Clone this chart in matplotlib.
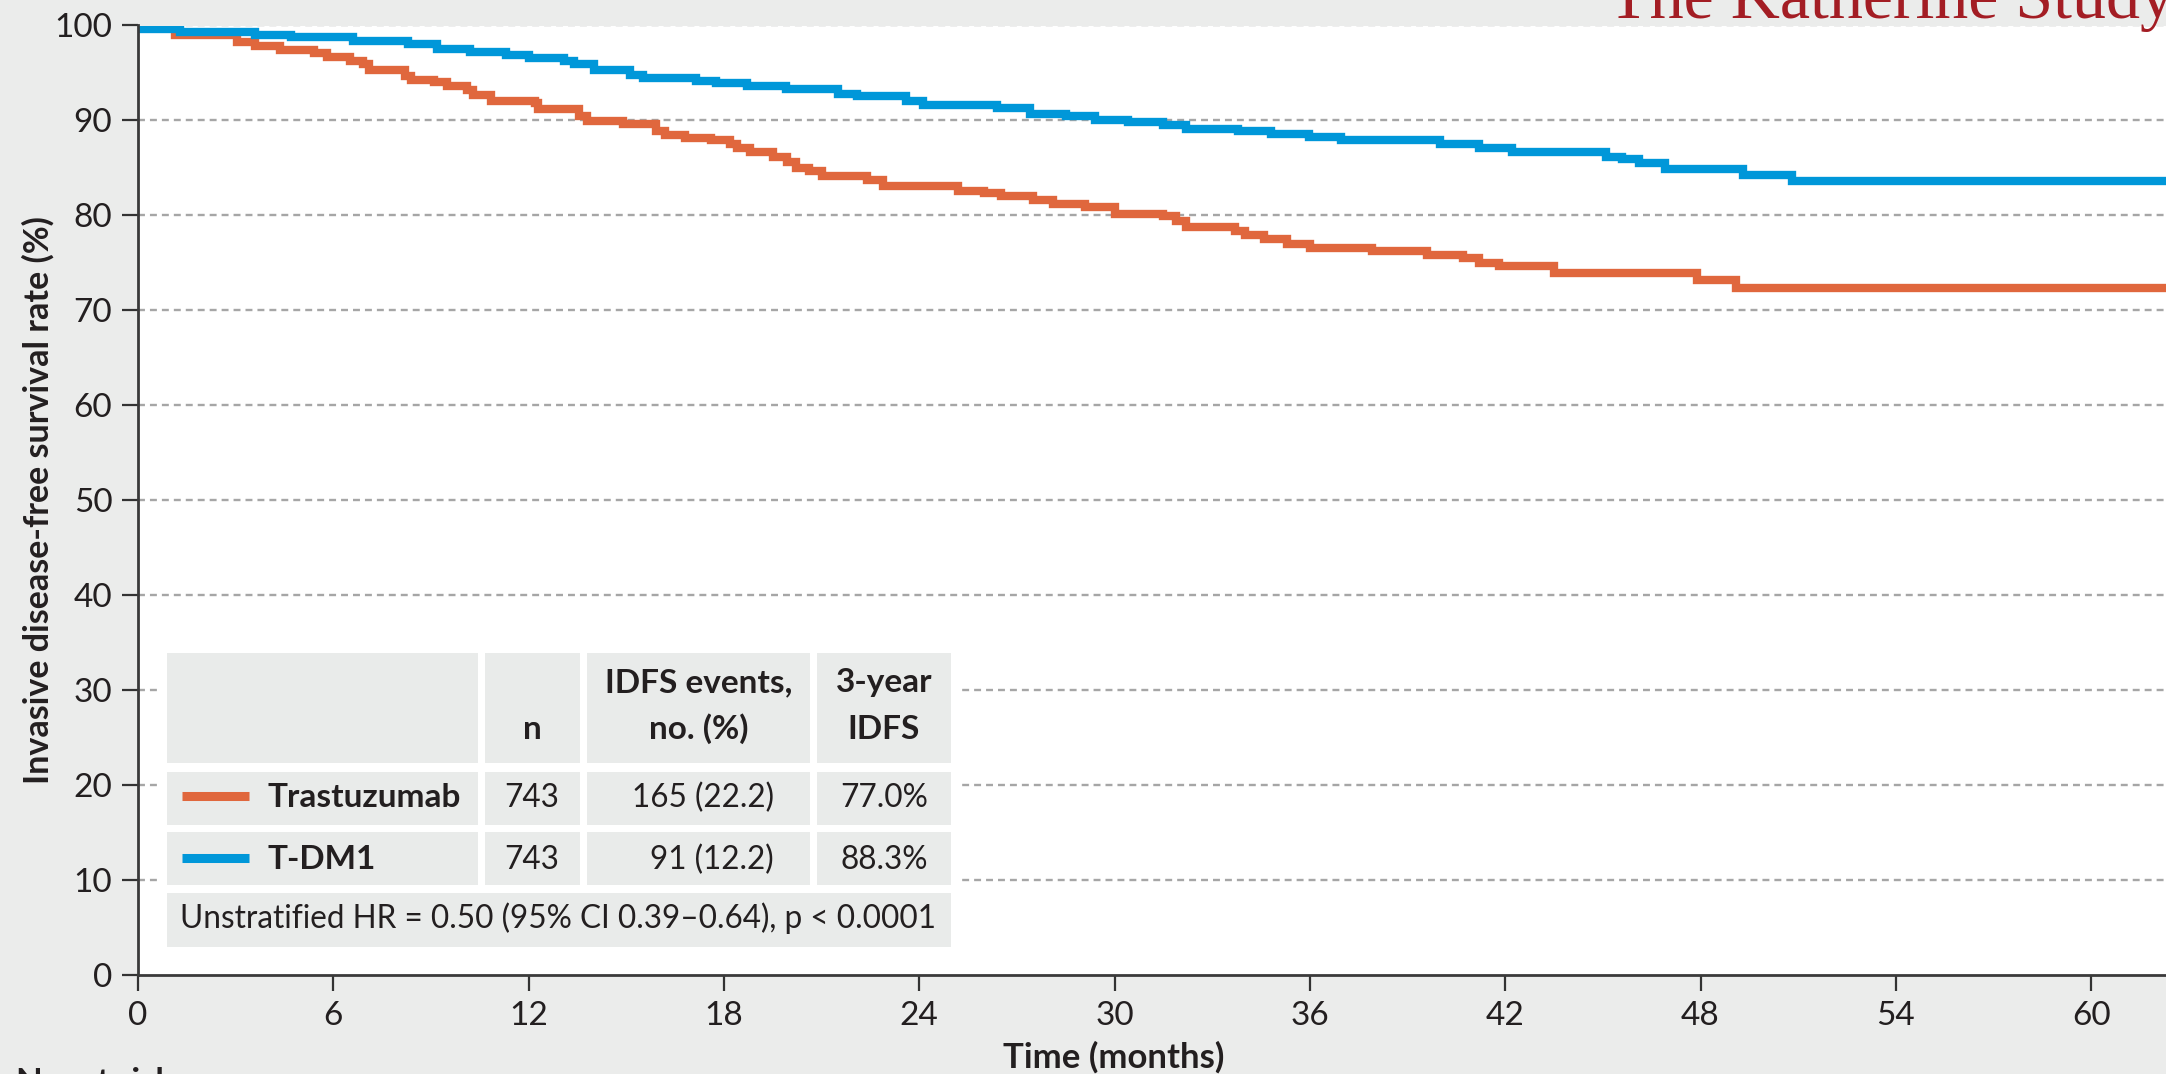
import matplotlib
matplotlib.use('Agg')
import matplotlib.pyplot as plt
from matplotlib.patches import Rectangle
from matplotlib.lines import Line2D

plt.rcParams['font.family'] = ['Lato', 'DejaVu Sans']
plt.rcParams['lines.scale_dashes'] = False

# ---------------- data ----------------
tras_t = [0, 1.13, 3.05, 3.6, 4.37, 5.4, 5.8, 6.5, 6.9, 7.1, 8.2, 8.4, 9.1, 9.5, 10.1, 10.3,
          10.85, 12.2, 12.3, 13.55, 13.8, 14.9, 15.9, 16.2, 16.8, 17.6, 18.2, 18.4, 18.8, 19.5,
          19.95, 20.2, 20.6, 21.0, 22.4, 22.9, 25.2, 26.0, 26.5, 27.5, 28.1, 29.1, 30.0, 31.5,
          31.9, 32.2, 33.7, 34.0, 34.6, 35.3, 36.0, 37.9, 39.6, 40.7, 41.2, 41.8, 43.5, 47.9,
          49.1, 62.5]
tras_s = [100, 99.0, 98.25, 97.8, 97.4, 97.1, 96.7, 96.3, 95.9, 95.3, 94.7, 94.3, 94.0, 93.6,
          93.2, 92.7, 92.1, 91.8, 91.2, 90.5, 89.9, 89.65, 88.9, 88.5, 88.2, 87.9, 87.5, 87.1,
          86.7, 86.2, 85.6, 85.0, 84.7, 84.1, 83.75, 83.1, 82.6, 82.4, 82.0, 81.6, 81.2, 80.9,
          80.2, 79.9, 79.4, 78.8, 78.35, 77.95, 77.5, 76.95, 76.6, 76.3, 75.8, 75.5, 75.0, 74.7,
          73.9, 73.2, 72.35, 72.35]

tdm1_t = [0, 0.15, 1.3, 3.6, 4.7, 6.6, 8.3, 9.2, 10.2, 11.3, 12.0, 13.1, 13.4, 14.0, 15.1, 15.5,
          17.15, 17.75, 18.7, 19.9, 21.5, 22.1, 23.6, 24.1, 26.4, 27.4, 28.5, 29.4, 30.4, 31.5,
          32.2, 33.8, 34.8, 35.96, 36.95, 40.0, 41.2, 42.2, 45.1, 45.6, 46.1, 46.9, 49.3, 50.8,
          62.5]
tdm1_s = [100, 99.65, 99.3, 99.05, 98.8, 98.35, 98.0, 97.5, 97.2, 96.9, 96.6, 96.3, 95.9, 95.3,
          94.8, 94.5, 94.2, 93.97, 93.6, 93.26, 92.8, 92.6, 92.0, 91.65, 91.3, 90.7, 90.45, 90.07,
          89.8, 89.5, 89.1, 88.9, 88.6, 88.25, 87.9, 87.5, 87.1, 86.7, 86.2, 85.9, 85.5, 84.9,
          84.3, 83.6, 83.6]

x_ticks = [0, 6, 12, 18, 24, 30, 36, 42, 48, 54, 60]
y_ticks = [0, 10, 20, 30, 40, 50, 60, 70, 80, 90, 100]

groups = ['Trastuzumab', 'T-DM1']
n_vals = ['743', '743']
events = ['165 (22.2)', '91 (12.2)']
idfs3 = ['77.0%', '88.3%']
header = ['n', 'IDFS events,\nno. (%)', '3-year\nIDFS']
hr_text = 'Unstratified HR = 0.50 (95% CI 0.39–0.64), p < 0.0001'
title = 'The Katherine Study'

# ---------------- style ----------------
ORANGE = '#e0673d'
BLUE = '#0097d9'
BG = '#ebeceb'
CELL = '#e9ebea'
TXT = '#231f20'
W, H = 2166, 1074

fig = plt.figure(figsize=(W / 100, H / 100), dpi=100, facecolor=BG)
ax = fig.add_axes([138 / W, 1 - 975 / H, 1 - 138 / W, (975 - 25.5) / H])
ax.set_facecolor('white')
ax.set_xlim(0, 62.3)
ax.set_ylim(0, 100)

for y in y_ticks[1:]:
    ax.axhline(y, color='#a6a6a6', lw=1.7, dashes=(5, 3.6), zorder=0.5)

ax.step(tras_t, tras_s, where='post', color=ORANGE, lw=6, zorder=3, solid_joinstyle='miter')
ax.step(tdm1_t, tdm1_s, where='post', color=BLUE, lw=6, zorder=4, solid_joinstyle='miter')

ax.set_xticks(x_ticks)
ax.set_yticks(y_ticks)
ax.tick_params(length=11.5, width=1.6, color='#333333', pad=7, labelsize=24, labelcolor=TXT)
for s in ['top', 'right']:
    ax.spines[s].set_visible(False)
for s in ['left', 'bottom']:
    ax.spines[s].set_linewidth(2)
    ax.spines[s].set_color('#3a3a3a')
    ax.spines[s].set_zorder(5)


def P(x, y):
    return (x / W, 1 - y / H)


fig.text(*P(1114, 1057), 'Time (months)', ha='center', va='center', fontsize=25,
         fontweight='bold', color=TXT)
fig.text(*P(38, 500), 'Invasive disease-free survival rate (%)', ha='center', va='center',
         rotation=90, fontsize=24.5, fontweight='bold', color=TXT)
fig.text(*P(16, 1067), 'No. at risk', ha='left', va='top', fontsize=25, fontweight='bold',
         color=TXT)
fig.text(*P(1608, 18), title, ha='left', va='baseline', fontsize=49,
         family=['Liberation Serif', 'DejaVu Serif'], color='#a31d24')


def rect(x0, y0, x1, y1, color, z=10):
    fig.add_artist(Rectangle(P(x0, y1), (x1 - x0) / W, (y1 - y0) / H, transform=fig.transFigure,
                             facecolor=color, edgecolor='none', zorder=z))


# table
rect(159, 645, 959, 955, 'white', z=9)
cols = [(167, 478), (485, 580), (587, 810), (817, 951)]
rows = [(653, 763), (772, 825), (832, 885)]
for (y0, y1) in rows:
    for (x0, x1) in cols:
        rect(x0, y0, x1, y1, CELL)
rect(167, 893, 951, 947, CELL)

fs_b = 24
fs = 22.7
# header
fig.text(*P(532, 739), header[0], ha='center', va='baseline', fontsize=fs_b, fontweight='bold',
         color=TXT, zorder=11)
for ci, lab in zip([2, 3], header[1:]):
    cx = (cols[ci][0] + cols[ci][1]) / 2
    l1, l2 = lab.split('\n')
    fig.text(*P(cx, 692), l1, ha='center', va='baseline', fontsize=fs_b, fontweight='bold',
             color=TXT, zorder=11)
    fig.text(*P(cx, 739), l2, ha='center', va='baseline', fontsize=fs_b, fontweight='bold',
             color=TXT, zorder=11)

colors = [ORANGE, BLUE]
baselines = [807, 869]
for i in range(2):
    yb = baselines[i]
    yc = yb - 11
    fig.add_artist(Line2D([182 / W, 249 / W], [1 - yc / H, 1 - yc / H], color=colors[i], lw=6.5,
                          transform=fig.transFigure, zorder=11, solid_capstyle='butt'))
    fig.text(*P(268, yb), groups[i], ha='left', va='baseline', fontsize=fs_b, fontweight='bold',
             color=TXT, zorder=11)
    fig.text(*P(532, yb), n_vals[i], ha='center', va='baseline', fontsize=fs, color=TXT, zorder=11)
    fig.text(*P(774, yb), events[i], ha='right', va='baseline', fontsize=fs, color=TXT, zorder=11)
    fig.text(*P(884, yb), idfs3[i], ha='center', va='baseline', fontsize=fs, color=TXT, zorder=11)

fig.text(*P(180, 928), hr_text, ha='left', va='baseline', fontsize=fs, color=TXT, zorder=11)

fig.savefig('out.png', dpi=100, facecolor=BG)
